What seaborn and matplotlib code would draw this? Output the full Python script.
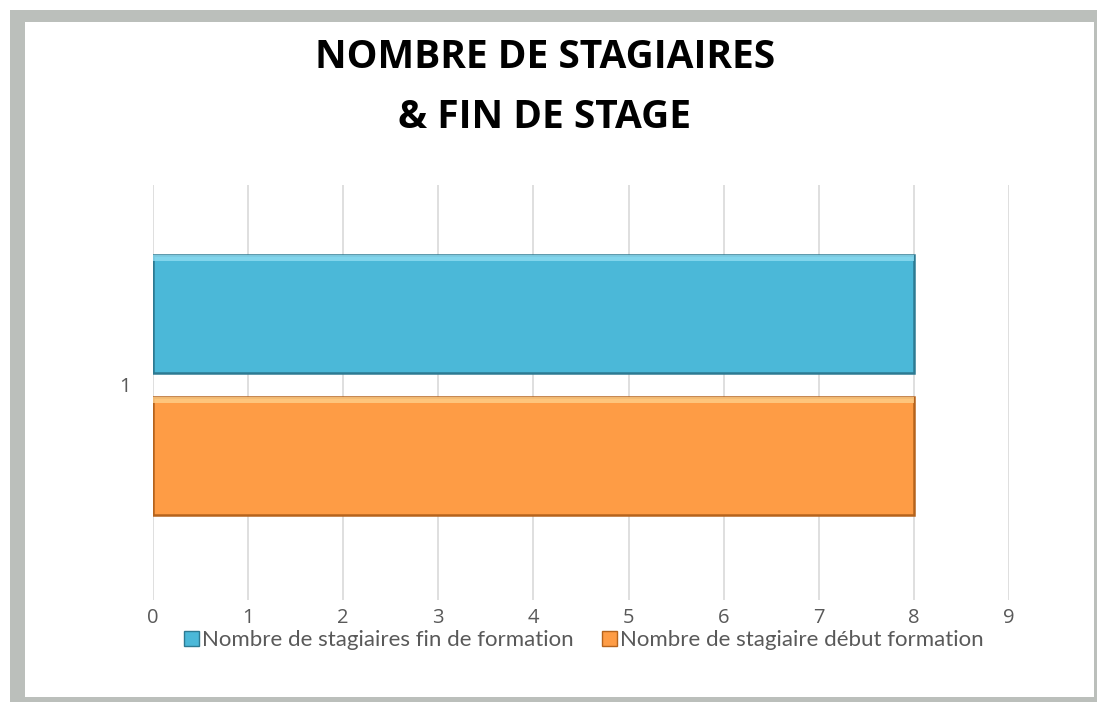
import matplotlib
matplotlib.use("Agg")
import matplotlib.pyplot as plt
import seaborn as sns
import pandas as pd
from matplotlib.patches import Rectangle

# ---- data ----
categories = ["1"]
series = ["Nombre de stagiaires fin de formation", "Nombre de stagiaire début formation"]
values_fin = [8]
values_debut = [8]
xticks = list(range(0, 10))
title_lines = ["NOMBRE DE STAGIAIRES", "& FIN DE STAGE"]

colors = ["#4BB8D8", "#FE9C45"]
edges = ["#2D7A92", "#B5631C"]
highlights = ["#8FDDF2", "#FFD08A"]

df = pd.DataFrame({
    "cat": categories * 2,
    "serie": [series[0]] * len(categories) + [series[1]] * len(categories),
    "val": values_fin + values_debut,
})

sns.set_theme(style="white")
plt.rcParams["font.family"] = ["Open Sans", "DejaVu Sans"]

W, H = 1097, 702
fig = plt.figure(figsize=(W / 100, H / 100), dpi=100)

# frame
fig.patches.append(Rectangle((10 / W, 0), 1 - 10 / W, 1 - 10 / H, transform=fig.transFigure,
                             facecolor="#BBBFBB", edgecolor="none", zorder=-10))
fig.patches.append(Rectangle((25 / W, 5 / H), (1094 - 25) / W, (680 - 5) / H, transform=fig.transFigure,
                             facecolor="white", edgecolor="none", zorder=-9))

ax = fig.add_axes([153 / W, 1 - 600 / H, (1009 - 153) / W, (600 - 185) / H])
ax.set_facecolor("none")

sns.barplot(data=df, x="val", y="cat", hue="serie", hue_order=series, orient="h",
            palette=colors, saturation=1, width=0.8, gap=0.17, ax=ax, legend=True)

for i, cont in enumerate(ax.containers):
    for bar in cont:
        bar.set_edgecolor(edges[i])
        bar.set_linewidth(1.8)
        # subtle bevel highlight along the top of the bar (derived from bar geometry)
        x0, y0, w, h = bar.get_x(), bar.get_y(), bar.get_width(), bar.get_height()
        ax.add_patch(Rectangle((x0, y0), w, h * 0.05, facecolor=highlights[i],
                               edgecolor="none", alpha=0.8, zorder=bar.get_zorder() + 0.1))

ax.set_xlim(0, 9)
ax.set_ylim(0.606, -0.563)
ax.set_xticks(xticks)
ax.set_xticklabels([str(t) for t in xticks])
ax.grid(axis="x", color="#D9D9D9", linewidth=1.2)
ax.set_axisbelow(True)
for s in ax.spines.values():
    s.set_visible(False)
ax.tick_params(axis="both", length=0, labelsize=14.5, labelcolor="#595959")
ax.tick_params(axis="x", pad=6)
ax.tick_params(axis="y", pad=16)
ax.set_xlabel("")
ax.set_ylabel("")

handles, labels = ax.get_legend_handles_labels()
ax.get_legend().remove()
for h, ec in zip(handles, edges):
    h.set_edgecolor(ec)
fig.legend(handles, labels, loc="center", bbox_to_anchor=(584 / W, 1 - 640 / H), ncol=2,
           frameon=False, handlelength=0.65, handleheight=0.65, handletextpad=0.15,
           columnspacing=1.3, prop={"family": ["Lato", "DejaVu Sans"], "size": 16},
           labelcolor="#595959")

for line, y in zip(title_lines, [57, 118]):
    fig.text(545 / W, 1 - y / H, line, ha="center", va="center", fontsize=28,
             fontweight="bold", family=["Open Sans", "DejaVu Sans"], color="#000000")

fig.savefig("out.png", dpi=100)
